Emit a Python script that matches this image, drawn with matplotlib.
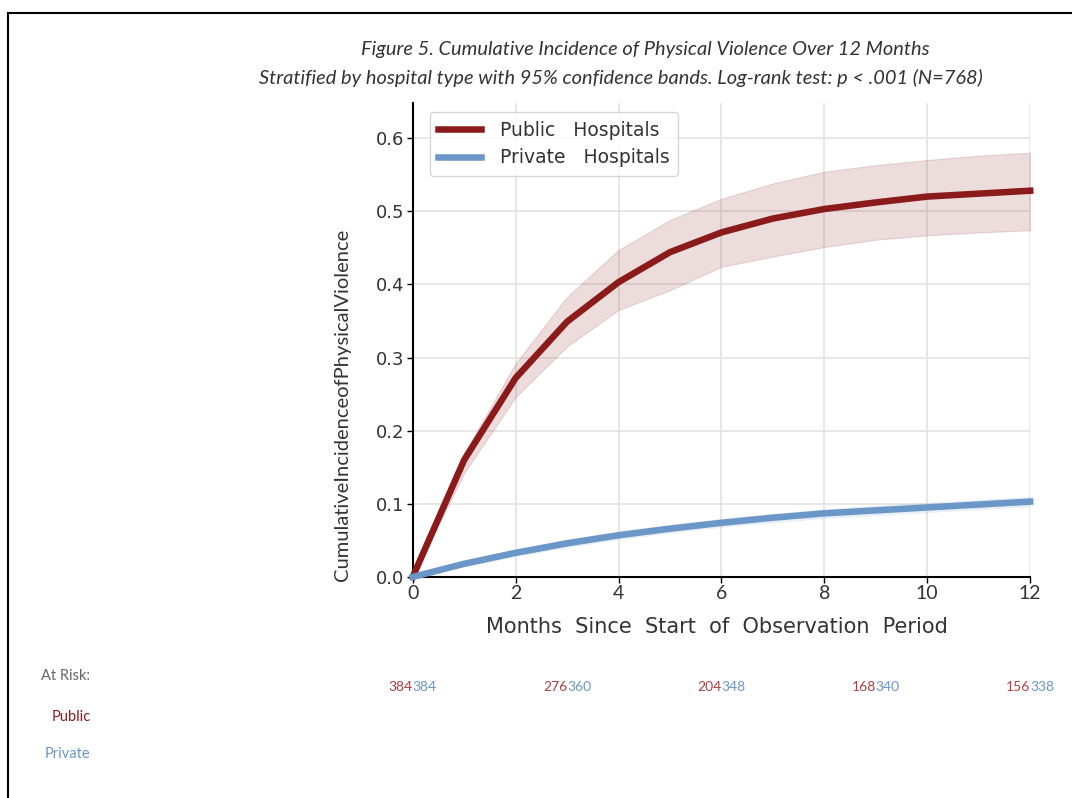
import matplotlib
matplotlib.use("Agg")
import matplotlib.pyplot as plt
from matplotlib.lines import Line2D

months = [0, 1, 2, 3, 4, 5, 6, 7, 8, 9, 10, 11, 12]
public_ci = [0.0, 0.160, 0.272, 0.349, 0.403, 0.444, 0.471, 0.490, 0.503, 0.512, 0.520, 0.524, 0.528]
public_lo = [0.0, 0.142, 0.246, 0.315, 0.365, 0.392, 0.424, 0.438, 0.451, 0.461, 0.467, 0.471, 0.474]
public_hi = [0.0, 0.169, 0.292, 0.383, 0.447, 0.488, 0.517, 0.538, 0.554, 0.563, 0.570, 0.576, 0.580]
private_ci = [0.0, 0.018, 0.033, 0.046, 0.057, 0.066, 0.074, 0.081, 0.087, 0.091, 0.095, 0.099, 0.103]
private_lo = [0.0, 0.014, 0.028, 0.040, 0.051, 0.060, 0.068, 0.074, 0.080, 0.084, 0.088, 0.092, 0.096]
private_hi = [0.0, 0.022, 0.038, 0.052, 0.063, 0.072, 0.080, 0.087, 0.093, 0.098, 0.102, 0.106, 0.110]

risk_times = [0, 3, 6, 9, 12]
risk_public = [384, 276, 204, 168, 156]
risk_private = [384, 360, 348, 340, 338]

red = "#8b1a1a"
blue = "#6a96c8"

fig = plt.figure(figsize=(10.72, 7.98), dpi=100)
ax = fig.add_axes([0.385, 0.277, 0.576, 0.594])

ax.fill_between(months, public_lo, public_hi, color=red, alpha=0.15, linewidth=0.8, edgecolor=(0.55, 0.1, 0.1, 0.25))
ax.fill_between(months, private_lo, private_hi, color=blue, alpha=0.15, linewidth=0)
ax.plot(months, public_ci, color=red, lw=4.7, label="Public   Hospitals", clip_on=False, zorder=3)
ax.plot(months, private_ci, color=blue, lw=4.7, label="Private   Hospitals", clip_on=False, zorder=3)

ax.set_xlim(0, 12)
ax.set_ylim(0, 0.648)
ax.set_xticks([0, 2, 4, 6, 8, 10, 12])
ax.set_yticks([0.0, 0.1, 0.2, 0.3, 0.4, 0.5, 0.6])
ax.set_yticklabels(["0.0", "0.1", "0.2", "0.3", "0.4", "0.5", "0.6"], fontsize=13, color="#333333")
for t in ax.get_xticklabels():
    t.set_fontfamily("Lato")
    t.set_fontsize(14)
    t.set_color("#333333")
ax.grid(True, color="#e3e3e3", lw=1.2)
ax.set_axisbelow(True)
for s in ["top", "right"]:
    ax.spines[s].set_visible(False)
for s in ["left", "bottom"]:
    ax.spines[s].set_linewidth(1.5)
ax.tick_params(axis="both", length=4, width=1, pad=2)

ax.set_xlabel("Months  Since  Start  of  Observation  Period", fontsize=15, family="DejaVu Sans",
              color="#333333", labelpad=6)
ax.xaxis.set_label_coords(0.492, -0.085)
ax.set_ylabel("CumulativeIncidenceofPhysicalViolence", fontsize=14.5, family="Lato", color="#333333")
ax.yaxis.set_label_coords(-0.100, 0.363)

leg = ax.legend(loc="upper left", bbox_to_anchor=(0.012, 1.0), fontsize=13.5, frameon=True,
                handlelength=2.3, handletextpad=1.0, borderpad=0.45, labelspacing=0.45, fancybox=True)
leg.get_frame().set_edgecolor("#cccccc")
for t in leg.get_texts():
    t.set_color("#333333")

fig.text(0.602, 0.938, "Figure 5. Cumulative Incidence of Physical Violence Over 12 Months",
         ha="center", va="center", fontsize=14.4, style="italic", family="Lato", color="#333333")
fig.text(0.579, 0.902, "Stratified by hospital type with 95% confidence bands. Log-rank test: p < .001 (N=768)",
         ha="center", va="center", fontsize=14.4, style="italic", family="Lato", color="#333333")

# At risk table
fig.text(0.061, 0.153, "At Risk:", ha="center", va="center", fontsize=10.5, family="Lato", color="#666666")
fig.text(0.066, 0.102, "Public", ha="center", va="center", fontsize=10.5, family="Lato", color=red)
fig.text(0.063, 0.055, "Private", ha="center", va="center", fontsize=10.5, family="Lato", color=blue)
y_risk = 0.139
for t, a, b in zip(risk_times, risk_public, risk_private):
    xf = fig.transFigure.inverted().transform(ax.transData.transform((t, 0)))[0]
    fig.text(xf, y_risk, str(a), ha="right", va="center", fontsize=10, family="Lato", color="#b04040")
    fig.text(xf, y_risk, str(b), ha="left", va="center", fontsize=10, family="Lato", color=blue)

# frame lines (top and left)
fig.add_artist(Line2D([0.007, 1.0], [0.984, 0.984], color="black", lw=1.5, transform=fig.transFigure))
fig.add_artist(Line2D([0.007, 0.007], [0.0, 0.984], color="black", lw=1.5, transform=fig.transFigure))

fig.savefig("out.png", dpi=100, facecolor="white")
